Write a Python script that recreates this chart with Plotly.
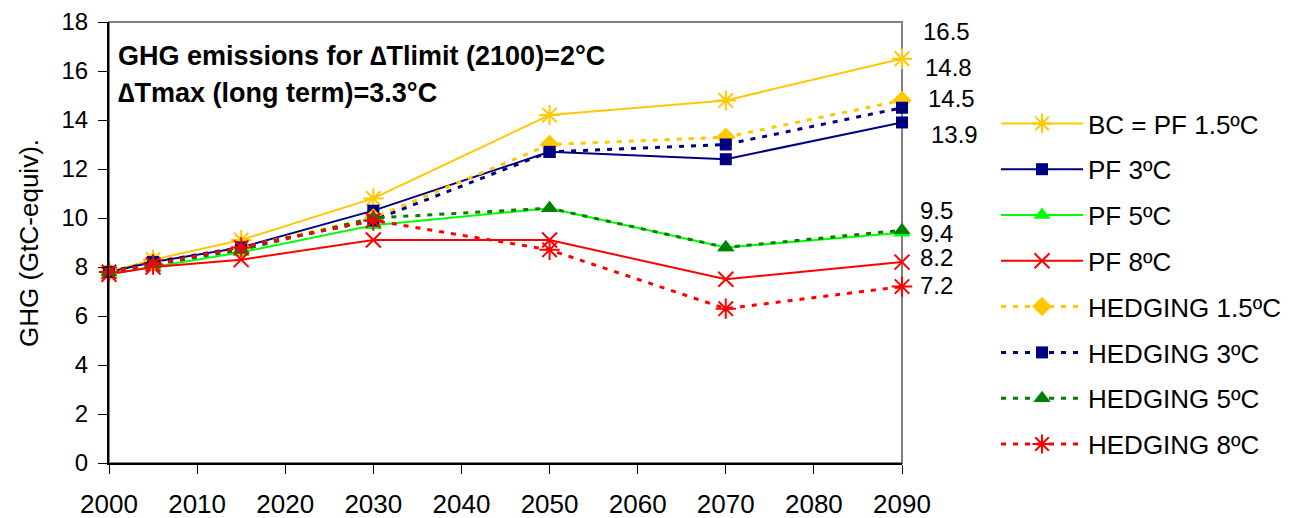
import plotly.graph_objects as go

years = [2000, 2005, 2015, 2030, 2050, 2070, 2090]
bc_pf15 = [7.8, 8.3, 9.1, 10.8, 14.2, 14.8, 16.5]
pf3 = [7.8, 8.2, 8.8, 10.3, 12.7, 12.4, 13.9]
pf5 = [7.7, 8.0, 8.6, 9.7, 10.4, 8.8, 9.4]
pf8 = [7.7, 8.0, 8.3, 9.1, 9.1, 7.5, 8.2]
hedging15 = [7.8, 8.2, 8.8, 10.0, 13.0, 13.3, 14.8]
hedging3 = [7.8, 8.2, 8.8, 9.9, 12.7, 13.0, 14.5]
hedging5 = [7.8, 8.1, 8.7, 10.0, 10.4, 8.8, 9.5]
hedging8 = [7.8, 8.1, 8.8, 9.9, 8.7, 6.3, 7.2]

series_names = ["BC = PF 1.5ºC", "PF 3ºC", "PF 5ºC", "PF 8ºC",
                "HEDGING 1.5ºC", "HEDGING 3ºC", "HEDGING 5ºC", "HEDGING 8ºC"]
series_values = [bc_pf15, pf3, pf5, pf8, hedging15, hedging3, hedging5, hedging8]

end_labels = ["16.5", "14.8", "14.5", "13.9", "9.5", "9.4", "8.2", "7.2"]
y_ticks = [0, 2, 4, 6, 8, 10, 12, 14, 16, 18]
x_ticks = [2000, 2010, 2020, 2030, 2040, 2050, 2060, 2070, 2080, 2090]

# styles
YEL = "#FFC800"
NAVY = "#000080"
LIME = "#00FF00"
RED = "#FF0000"
DGREEN = "#008000"
styles = [
    dict(color=YEL, dash="solid", symbol="asterisk-open", size=17, mlw=2),
    dict(color=NAVY, dash="solid", symbol="square", size=12, mlw=0),
    dict(color=LIME, dash="solid", symbol="triangle-up", size=15, mlw=0),
    dict(color=RED, dash="solid", symbol="x-thin-open", size=15, mlw=2),
    dict(color=YEL, dash="5px,7px", symbol="diamond", size=15, mlw=0),
    dict(color=NAVY, dash="5px,7px", symbol="square", size=12, mlw=0),
    dict(color=DGREEN, dash="5px,7px", symbol="triangle-up", size=15, mlw=0),
    dict(color=RED, dash="5px,7px", symbol="asterisk-open", size=17, mlw=2),
]

fig = go.Figure()
for i, (name, vals, st) in enumerate(zip(series_names, series_values, styles)):
    lw = 2 if st["dash"] == "solid" else 3
    fig.add_trace(go.Scatter(
        x=years, y=vals, name=name, mode="lines+markers",
        legendgroup=f"g{i}",
        line=dict(color=st["color"], width=lw, dash=st["dash"]),
        marker=dict(symbol=st["symbol"], size=st["size"], color=st["color"],
                    line=dict(color=st["color"], width=st["mlw"])),
        cliponaxis=False,
    ))

OFF = 8  # page body margin offset
W, H = 1302, 518
L = 109 - OFF
T = 22 - OFF
B = H - (463 - OFF)
R = W - (902 - OFF)
pw = W - L - R
ph = H - T - B

def px_x(x):
    return (x - OFF - L) / pw

def px_y(y):
    return (H - B - (y - OFF)) / ph

annotations = []
label_pos = [(921, 32), (923, 67), (926, 98), (929, 134),
             (918, 210), (918, 233), (918, 257), (918, 285)]
for txt, (lx, ly) in zip(end_labels, label_pos):
    annotations.append(dict(x=px_x(lx), y=px_y(ly), xref="paper", yref="paper",
                            text=txt, showarrow=False, xanchor="left", yanchor="middle",
                            font=dict(size=24, color="black")))

annotations.append(dict(x=px_x(116), y=px_y(56), xref="paper", yref="paper",
                        text="<b>GHG emissions for ∆Tlimit (2100)=2°C</b>", showarrow=False,
                        xanchor="left", yanchor="middle", font=dict(size=27, color="black")))
annotations.append(dict(x=px_x(116), y=px_y(93), xref="paper", yref="paper",
                        text="<b>∆Tmax (long term)=3.3°C</b>", showarrow=False,
                        xanchor="left", yanchor="middle", font=dict(size=27, color="black")))
annotations.append(dict(x=px_x(29), y=px_y(243), xref="paper", yref="paper",
                        text="GHG (GtC-equiv).", showarrow=False, textangle=-90,
                        xanchor="center", yanchor="middle", font=dict(size=26, color="black")))

fig.update_layout(
    width=W, height=H,
    margin=dict(l=L, r=R, t=T, b=B, autoexpand=False),
    paper_bgcolor="white", plot_bgcolor="white",
    font=dict(family="Liberation Sans, Arial, sans-serif", color="black"),
    showlegend=True,
    legend=dict(x=px_x(996), y=px_y(100), xanchor="left", yanchor="top",
                font=dict(size=26, color="black"), itemwidth=82,
                traceorder="grouped", tracegroupgap=9,
                bgcolor="rgba(0,0,0,0)", borderwidth=0),
    annotations=annotations,
    shapes=[dict(type="rect", xref="paper", yref="paper", x0=0, x1=1, y0=0, y1=1,
                 line=dict(color="#808080", width=2), layer="below")],
    xaxis=dict(range=[2000, 2090], tickvals=x_ticks, ticktext=[str(v) for v in x_ticks],
               showgrid=False, zeroline=False, showline=True, linecolor="black", linewidth=2,
               ticks="outside", ticklen=9, tickwidth=1, tickcolor="black",
               tickfont=dict(size=26), ticklabelstandoff=8),
    yaxis=dict(range=[0, 18], tickvals=y_ticks, showgrid=False, zeroline=False,
               showline=True, linecolor="black", linewidth=2,
               ticks="outside", ticklen=9, tickwidth=1, tickcolor="black",
               tickfont=dict(size=24), ticklabelstandoff=5),
)

fig.write_html("out.html")
